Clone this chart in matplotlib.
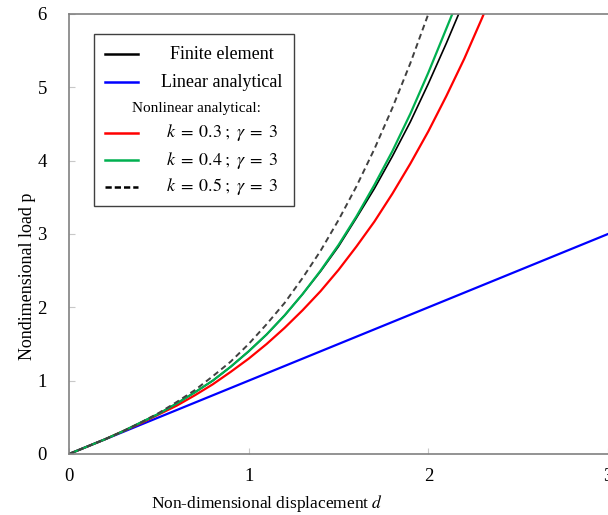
import matplotlib
matplotlib.use("Agg")
import matplotlib.pyplot as plt
from matplotlib.lines import Line2D
from matplotlib.patches import Rectangle

# values
d_lin = [0.0, 3.0]
p_lin = [0.0, 3.0]

d_fe = [0.0, 0.1, 0.2, 0.3, 0.4, 0.5, 0.6, 0.7, 0.8, 0.9, 1.0, 1.1, 1.2,
        1.3, 1.4, 1.5, 1.6, 1.7, 1.8, 1.9, 2.0, 2.1, 2.2]
p_fe = [0.0, 0.10, 0.20, 0.31, 0.43, 0.55, 0.69, 0.84, 1.00, 1.19, 1.40, 1.63, 1.89,
        2.18, 2.49, 2.83, 3.22, 3.62, 4.06, 4.53, 5.05, 5.60, 6.18]

d_k03 = [0.0, 0.1, 0.2, 0.3, 0.4, 0.5, 0.6, 0.7, 0.8, 0.9, 1.0, 1.1, 1.2,
         1.3, 1.4, 1.5, 1.6, 1.7, 1.8, 1.9, 2.0, 2.1, 2.2, 2.3, 2.4]
p_k03 = [0.0, 0.10, 0.20, 0.31, 0.42, 0.54, 0.66, 0.80, 0.95, 1.12, 1.30, 1.50, 1.72,
         1.96, 2.22, 2.51, 2.83, 3.17, 3.55, 3.96, 4.40, 4.88, 5.39, 5.95, 6.55]

d_k04 = [0.0, 0.1, 0.2, 0.3, 0.4, 0.5, 0.6, 0.7, 0.8, 0.9, 1.0, 1.1, 1.2,
         1.3, 1.4, 1.5, 1.6, 1.7, 1.8, 1.9, 2.0, 2.1, 2.2]
p_k04 = [0.0, 0.10, 0.20, 0.31, 0.43, 0.55, 0.69, 0.84, 1.00, 1.19, 1.40, 1.63, 1.89,
         2.18, 2.50, 2.85, 3.24, 3.67, 4.13, 4.64, 5.20, 5.80, 6.40]

d_k05 = [0.0, 0.1, 0.2, 0.3, 0.4, 0.5, 0.6, 0.7, 0.8, 0.9, 1.0, 1.1, 1.2,
         1.3, 1.4, 1.5, 1.6, 1.7, 1.8, 1.9, 2.0, 2.1]
p_k05 = [0.0, 0.10, 0.20, 0.31, 0.43, 0.56, 0.71, 0.87, 1.06, 1.26, 1.50, 1.77, 2.06,
         2.40, 2.77, 3.19, 3.65, 4.16, 4.72, 5.33, 6.00, 6.73]

x_ticks = [0, 1, 2, 3]
y_ticks = [0, 1, 2, 3, 4, 5, 6]

plt.rcParams['font.family'] = ['Liberation Serif', 'DejaVu Serif']
plt.rcParams['mathtext.fontset'] = 'stix'

fig = plt.figure(figsize=(6.08, 5.15), dpi=100)
ax = fig.add_axes([69 / 608, 1 - 454 / 515, 539 / 608, 440 / 515])

ax.plot(d_lin, p_lin, color='#0000ff', lw=1.6)
ax.plot(d_k03, p_k03, color='#ff0000', lw=1.6)
ax.plot(d_fe, p_fe, color='black', lw=1.2)
ax.plot(d_k04, p_k04, color='#00b050', lw=1.6)
ax.plot(d_k05, p_k05, color='#404040', lw=1.4, ls=(0, (3, 2)))

ax.set_xlim(0, 3)
ax.set_ylim(0, 6)
ax.set_xticks(x_ticks)
ax.set_yticks(y_ticks)
ax.tick_params(direction='in', length=4, color='#c8c8c8', labelsize=13.5)
ax.tick_params(axis='x', pad=10)
ax.tick_params(axis='y', pad=16)
for side in ['left', 'bottom', 'top']:
    ax.spines[side].set_color('#808080')
    ax.spines[side].set_linewidth(1.2)
ax.spines['right'].set_visible(False)

ax.set_xlabel('Non-dimensional displacement $d$', fontsize=12.5)
ax.set_ylabel('Nondimensional load p', fontsize=13)
ax.xaxis.set_label_coords((267 - 69) / 539, -39 / 440)
ax.yaxis.set_label_coords(-33 / 539, (454 - 276) / 440)

# hand-built legend box
tr = ax.transAxes
ax.add_patch(Rectangle((0.0464, 0.5636), 0.371, 0.391, transform=tr,
                       facecolor='white', edgecolor='#404040', lw=1.0, zorder=5))
rows = [
    (0.909, dict(color='black', lw=1.8), 'Finite element'),
    (0.845, dict(color='#0000ff', lw=1.8), 'Linear analytical'),
    (0.730, dict(color='#ff0000', lw=1.8), r'$k\;=\;0.3\;;\;\gamma\;=\;3$'),
    (0.668, dict(color='#00b050', lw=1.8), r'$k\;=\;0.4\;;\;\gamma\;=\;3$'),
    (0.607, dict(color='black', lw=1.8, ls=(0, (2.5, 1.2))), r'$k\;=\;0.5\;;\;\gamma\;=\;3$'),
]
hx0, hx1 = (105 - 69) / 539, (138 - 69) / 539
tx = (222 - 69) / 539
for y, style, label in rows:
    ax.add_line(Line2D([hx0, hx1], [y, y], transform=tr, zorder=6, **style))
    ax.text(tx, y, label, transform=tr, ha='center', va='center',
            fontsize=13, zorder=6)
ax.text((196 - 69) / 539, 0.785, 'Nonlinear analytical:', transform=tr,
        ha='center', va='center', fontsize=11, zorder=6)

fig.savefig('out.png', dpi=100)
